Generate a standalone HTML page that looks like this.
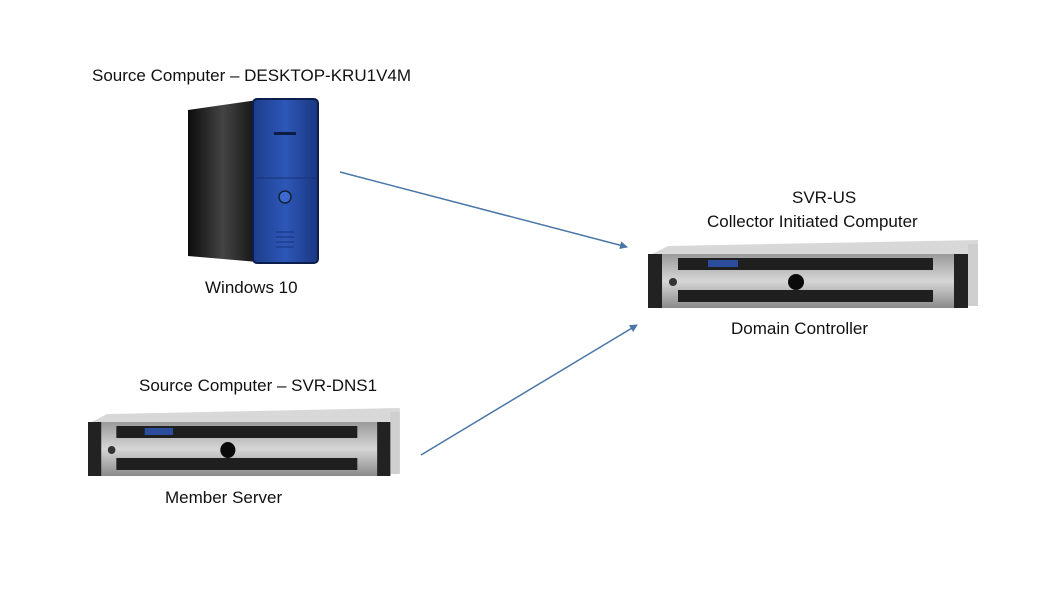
<!DOCTYPE html>
<html><head><meta charset="utf-8"><style>
html,body{margin:0;padding:0;background:#fff;width:1063px;height:598px;overflow:hidden}
svg text{font-family:"Liberation Sans",sans-serif;font-size:17px;fill:#111}
</style></head><body>
<svg width="1063" height="598" viewBox="0 0 1063 598" xmlns="http://www.w3.org/2000/svg">
<defs>
<linearGradient id="side" x1="0" y1="0" x2="1" y2="0">
<stop offset="0" stop-color="#0c0c0c"/><stop offset="0.5" stop-color="#444"/><stop offset="1" stop-color="#111"/></linearGradient>
<linearGradient id="front" x1="0" y1="0" x2="1" y2="0">
<stop offset="0" stop-color="#1d3d8a"/><stop offset="0.5" stop-color="#2d57b8"/><stop offset="1" stop-color="#1a3680"/></linearGradient>
<linearGradient id="bez" x1="0" y1="0" x2="0" y2="1">
<stop offset="0" stop-color="#9a9a9a"/><stop offset="0.5" stop-color="#d6d6d6"/><stop offset="1" stop-color="#8a8a8a"/></linearGradient>
<marker id="ah" markerWidth="8" markerHeight="8" refX="7" refY="4" orient="auto" markerUnits="userSpaceOnUse">
<path d="M0,0 L8,4 L0,8 z" fill="#4a76a8"/></marker>
<g id="srv">
<path d="M0,16 L20,6 L330,0 L330,62 L0,66 z" fill="#d8d8d8"/>
<rect x="0" y="14" width="320" height="54" fill="url(#bez)"/>
<rect x="0" y="14" width="14" height="54" fill="#222"/>
<rect x="306" y="14" width="14" height="54" fill="#222"/>
<rect x="320" y="4" width="10" height="62" fill="#cfcfcf"/>
<rect x="30" y="18" width="255" height="12" fill="#1f1f1f"/>
<rect x="60" y="20" width="30" height="7" fill="#2b4d9c"/>
<rect x="30" y="50" width="255" height="12" fill="#1f1f1f"/>
<circle cx="148" cy="42" r="8" fill="#0a0a0a"/>
<circle cx="25" cy="42" r="4" fill="#333"/>
</g>
</defs>

<text x="92" y="81">Source Computer – DESKTOP-KRU1V4M</text>
<path d="M188,110 L258,100 L258,262 L188,256 z" fill="url(#side)"/>
<rect x="253" y="99" width="65" height="164" rx="4" fill="url(#front)" stroke="#0c1f4c" stroke-width="2"/>
<rect x="274" y="132" width="22" height="3" fill="#0c1c44"/>
<line x1="256" y1="178" x2="316" y2="178" stroke="#183278"/>
<circle cx="285" cy="197" r="6" fill="#3b6bd0" stroke="#123" stroke-width="1.5"/>
<g stroke="#183278"><line x1="276" y1="232" x2="294" y2="232"/><line x1="276" y1="237" x2="294" y2="237"/><line x1="276" y1="242" x2="294" y2="242"/><line x1="276" y1="247" x2="294" y2="247"/></g>
<text x="205" y="293">Windows 10</text>

<text x="792" y="203">SVR-US</text>
<text x="707" y="227">Collector Initiated Computer</text>
<use href="#srv" transform="translate(648,240)"/>
<text x="731" y="334">Domain Controller</text>

<text x="139" y="391">Source Computer – SVR-DNS1</text>
<use href="#srv" transform="translate(88,408) scale(0.945,1)"/>
<text x="165" y="503">Member Server</text>

<line x1="340" y1="172" x2="627" y2="247" stroke="#4a76a8" stroke-width="1.5" marker-end="url(#ah)"/>
<line x1="421" y1="455" x2="637" y2="325" stroke="#4a76a8" stroke-width="1.5" marker-end="url(#ah)"/>
</svg>
</body></html>
